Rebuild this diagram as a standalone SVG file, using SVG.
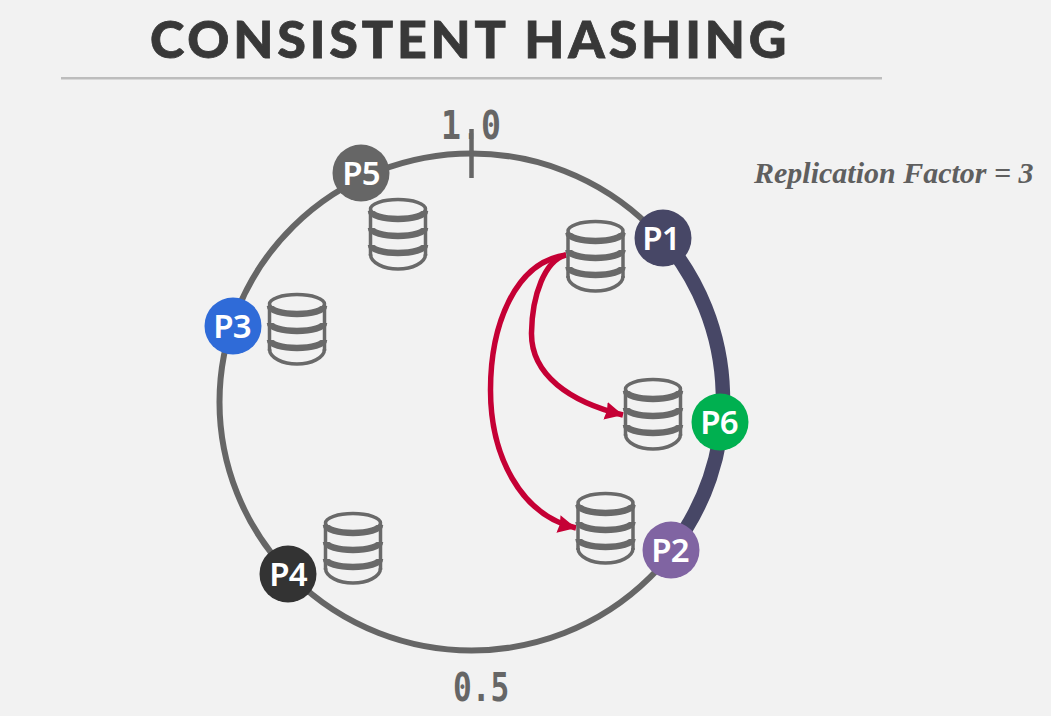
<svg xmlns="http://www.w3.org/2000/svg" xmlns:xlink="http://www.w3.org/1999/xlink" width="1051" height="716" viewBox="0 0 1051 716">
<style>
.ring{fill:none;stroke:#666;stroke-width:6}
.rep{fill:none;stroke:#474766;stroke-width:14.500}
.tick{stroke:#666;stroke-width:4.500;fill:none}
.nl{font-family:"Noto Sans",sans-serif;font-weight:600;font-size:33px;letter-spacing:-.8px;fill:#fff;text-anchor:middle}
.mono{font-family:"DejaVu Sans Mono",monospace;font-weight:700;font-size:39px;fill:#666}
.thin{fill:none;stroke:#696969;stroke-width:3.500}
.thick{fill:none;stroke:#696969;stroke-width:6.500}
.arrow{fill:none;stroke:#c50035;stroke-width:5.500}
</style>
<defs>
<marker id="ah" markerUnits="userSpaceOnUse" markerWidth="24" markerHeight="22" refX="18" refY="9" orient="auto"><path d="M0,0L18,9L0,18L1.500,9Z" fill="#c50035"/></marker>
<g id="db">
<ellipse class="thin" cx="29" cy="11" rx="27.500" ry="9.500"/>
<path class="thin" d="M1.500,12V58M56.500,12V58"/>
<path class="thick" d="M2,13A27,8 0 0 0 56,13M2,30A27,8 0 0 0 56,30M2,47A27,8 0 0 0 56,47"/>
<path class="thin" d="M1.500,56C1.500,65 15,71 29,71C43,71 56.500,65 56.500,56"/>
</g>
</defs>
<rect width="1051" height="716" fill="#f2f2f2"/>
<text x="150" y="58" font-family="Lato,sans-serif" font-weight="900" font-size="52" letter-spacing="3.800" fill="#383838" stroke="#383838" stroke-width=".8">CONSISTENT HASHING</text>
<rect x="61" y="77" width="821" height="2.500" fill="#bdbdbd"/>
<text x="754" y="183" font-family="'Liberation Serif',serif" font-weight="700" font-style="italic" font-size="30" fill="#5f5f5f">Replication Factor = 3</text>
<g id="label-top"><text class="mono" transform="translate(441,139) scale(.85,1)">1<tspan font-weight="400">.</tspan>0</text></g>
<g id="label-bottom"><text class="mono" transform="translate(453,701) scale(.8,1)">0.5</text></g>
<g id="connectors">
<ellipse class="ring" cx="471.500" cy="402" rx="252" ry="248.500"/>
<path class="rep" d="M663,238A252,248.500 0 0 1 671,550"/>
<path class="tick" d="M471.500,129V178"/>
<path class="arrow" marker-end="url(#ah)" d="M566,255C515,262 490.500,325 490.500,390C490.500,455 520,515 576,528"/>
<path class="arrow" marker-end="url(#ah)" d="M566,255C545,260 532,295 531.500,333C531,375 570,402 623,415"/>
</g>
<g id="db1"><use xlink:href="#db" href="#db" x="566.500" y="220"/></g>
<g id="db2"><use xlink:href="#db" href="#db" x="576.500" y="492"/></g>
<g id="db3"><use xlink:href="#db" href="#db" x="268" y="293"/></g>
<g id="db4"><use xlink:href="#db" href="#db" x="324" y="512"/></g>
<g id="db5"><use xlink:href="#db" href="#db" x="369" y="198"/></g>
<g id="db6"><use xlink:href="#db" href="#db" x="624" y="378"/></g>
<g id="P1"><circle cx="663" cy="238" r="28.500" fill="#474766"/><text class="nl" x="661" y="250">P1</text></g>
<g id="P2"><circle cx="671" cy="550" r="28.500" fill="#8064a2"/><text class="nl" x="670" y="562">P2</text></g>
<g id="P3"><circle cx="233" cy="326" r="28.500" fill="#2f6bd8"/><text class="nl" x="232" y="338">P3</text></g>
<g id="P4"><circle cx="288" cy="574" r="28.500" fill="#333"/><text class="nl" x="288" y="586">P4</text></g>
<g id="P5"><circle cx="361" cy="173" r="28.500" fill="#666"/><text class="nl" x="361" y="185">P5</text></g>
<g id="P6"><circle cx="720" cy="422" r="28.500" fill="#00b050"/><text class="nl" x="719" y="434">P6</text></g>
</svg>
